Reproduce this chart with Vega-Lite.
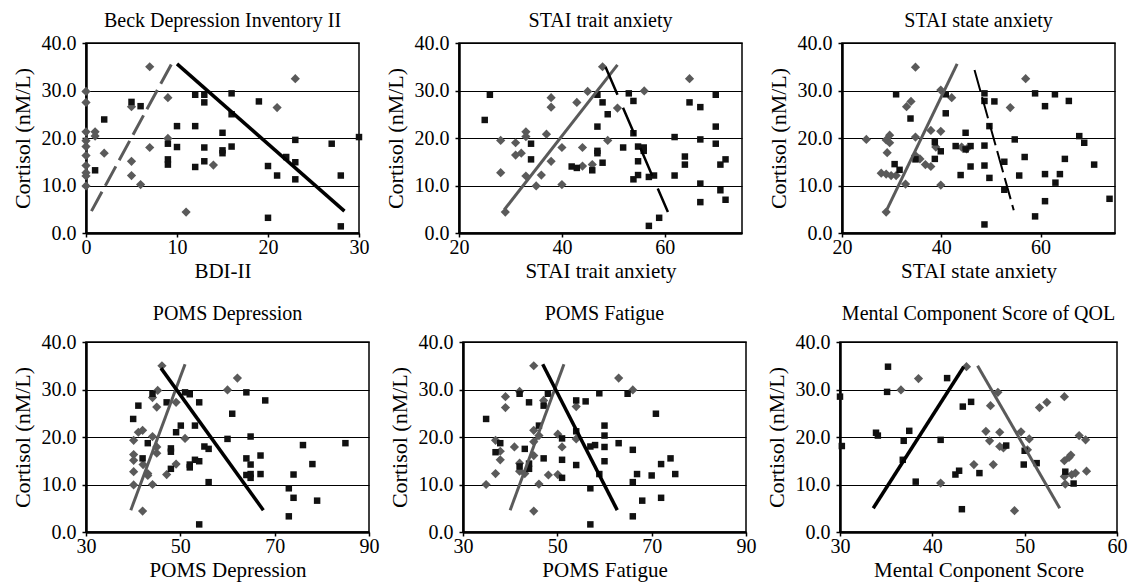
{
"$schema": "https://vega.github.io/schema/vega-lite/v6.json",
"padding": {"left": 10, "top": 10, "right": 2, "bottom": 2},
"background": "white",
"datasets": {
"pts": [
{"panel":1,"group":"A","x":0,"y":29.8},{"panel":1,"group":"A","x":0,"y":27.5},{"panel":1,"group":"A","x":0,"y":21.3},{"panel":1,"group":"A","x":0,"y":19.4},{"panel":1,"group":"A","x":0,"y":18.2},{"panel":1,"group":"A","x":0,"y":16.3},{"panel":1,"group":"A","x":0,"y":14.2},{"panel":1,"group":"A","x":0,"y":12.7},{"panel":1,"group":"A","x":0,"y":12.0},{"panel":1,"group":"A","x":0,"y":9.9},{"panel":1,"group":"A","x":1,"y":21.3},{"panel":1,"group":"A","x":1,"y":20.4},{"panel":1,"group":"A","x":2,"y":16.8},{"panel":1,"group":"A","x":5,"y":26.6},{"panel":1,"group":"A","x":5,"y":15.1},{"panel":1,"group":"A","x":5,"y":12.1},{"panel":1,"group":"A","x":6,"y":10.2},{"panel":1,"group":"A","x":7,"y":35.0},{"panel":1,"group":"A","x":7,"y":18.0},{"panel":1,"group":"A","x":9,"y":28.5},{"panel":1,"group":"A","x":9,"y":19.9},{"panel":1,"group":"A","x":11,"y":4.4},{"panel":1,"group":"A","x":14,"y":14.3},{"panel":1,"group":"A","x":21,"y":26.4},{"panel":1,"group":"A","x":23,"y":32.5},
{"panel":1,"group":"B","x":1,"y":13.2},{"panel":1,"group":"B","x":2,"y":23.9},{"panel":1,"group":"B","x":5,"y":27.6},{"panel":1,"group":"B","x":6,"y":26.7},{"panel":1,"group":"B","x":9,"y":18.8},{"panel":1,"group":"B","x":9,"y":15.5},{"panel":1,"group":"B","x":9,"y":14.4},{"panel":1,"group":"B","x":10,"y":22.5},{"panel":1,"group":"B","x":10,"y":18.1},{"panel":1,"group":"B","x":12,"y":29.1},{"panel":1,"group":"B","x":12,"y":22.5},{"panel":1,"group":"B","x":12,"y":13.9},{"panel":1,"group":"B","x":13,"y":29.1},{"panel":1,"group":"B","x":13,"y":27.5},{"panel":1,"group":"B","x":13,"y":18.0},{"panel":1,"group":"B","x":13,"y":15.1},{"panel":1,"group":"B","x":15,"y":21.1},{"panel":1,"group":"B","x":15,"y":17.4},{"panel":1,"group":"B","x":15,"y":16.8},{"panel":1,"group":"B","x":16,"y":29.4},{"panel":1,"group":"B","x":16,"y":25.0},{"panel":1,"group":"B","x":16,"y":18.2},{"panel":1,"group":"B","x":19,"y":27.7},{"panel":1,"group":"B","x":20,"y":14.1},{"panel":1,"group":"B","x":20,"y":3.2},{"panel":1,"group":"B","x":21,"y":12.1},{"panel":1,"group":"B","x":22,"y":16.0},{"panel":1,"group":"B","x":23,"y":19.6},{"panel":1,"group":"B","x":23,"y":14.9},{"panel":1,"group":"B","x":23,"y":11.3},{"panel":1,"group":"B","x":27,"y":18.8},{"panel":1,"group":"B","x":28,"y":12.1},{"panel":1,"group":"B","x":28,"y":1.4},{"panel":1,"group":"B","x":30,"y":20.2},
{"panel":2,"group":"A","x":29.0,"y":4.4},{"panel":2,"group":"A","x":28.1,"y":19.5},{"panel":2,"group":"A","x":28.1,"y":12.7},{"panel":2,"group":"A","x":31.0,"y":19.0},{"panel":2,"group":"A","x":31.0,"y":16.4},{"panel":2,"group":"A","x":32.1,"y":16.8},{"panel":2,"group":"A","x":33.0,"y":21.3},{"panel":2,"group":"A","x":33.0,"y":20.3},{"panel":2,"group":"A","x":33.0,"y":12.0},{"panel":2,"group":"A","x":35.0,"y":9.9},{"panel":2,"group":"A","x":36.0,"y":12.2},{"panel":2,"group":"A","x":37.0,"y":20.8},{"panel":2,"group":"A","x":37.9,"y":28.5},{"panel":2,"group":"A","x":37.9,"y":26.5},{"panel":2,"group":"A","x":37.9,"y":15.1},{"panel":2,"group":"A","x":40.0,"y":18.0},{"panel":2,"group":"A","x":40.0,"y":10.2},{"panel":2,"group":"A","x":42.9,"y":27.5},{"panel":2,"group":"A","x":44.0,"y":18.0},{"panel":2,"group":"A","x":44.0,"y":14.1},{"panel":2,"group":"A","x":45.0,"y":29.8},{"panel":2,"group":"A","x":45.9,"y":14.4},{"panel":2,"group":"A","x":47.9,"y":35.0},{"panel":2,"group":"A","x":48.9,"y":19.5},{"panel":2,"group":"A","x":50.8,"y":26.3},{"panel":2,"group":"A","x":56.0,"y":29.9},{"panel":2,"group":"A","x":64.8,"y":32.5},
{"panel":2,"group":"B","x":25.0,"y":23.8},{"panel":2,"group":"B","x":26.0,"y":29.1},{"panel":2,"group":"B","x":34.0,"y":18.8},{"panel":2,"group":"B","x":34.0,"y":15.5},{"panel":2,"group":"B","x":41.9,"y":14.0},{"panel":2,"group":"B","x":42.9,"y":13.7},{"panel":2,"group":"B","x":45.9,"y":13.2},{"panel":2,"group":"B","x":46.9,"y":29.1},{"panel":2,"group":"B","x":46.9,"y":22.4},{"panel":2,"group":"B","x":46.9,"y":17.3},{"panel":2,"group":"B","x":46.9,"y":16.8},{"panel":2,"group":"B","x":47.9,"y":27.5},{"panel":2,"group":"B","x":47.9,"y":14.8},{"panel":2,"group":"B","x":48.9,"y":25.0},{"panel":2,"group":"B","x":51.9,"y":18.0},{"panel":2,"group":"B","x":53.0,"y":29.4},{"panel":2,"group":"B","x":53.9,"y":27.8},{"panel":2,"group":"B","x":53.9,"y":21.0},{"panel":2,"group":"B","x":53.9,"y":11.3},{"panel":2,"group":"B","x":54.8,"y":18.2},{"panel":2,"group":"B","x":54.8,"y":15.1},{"panel":2,"group":"B","x":54.8,"y":12.2},{"panel":2,"group":"B","x":55.9,"y":18.0},{"panel":2,"group":"B","x":55.9,"y":17.3},{"panel":2,"group":"B","x":56.9,"y":11.8},{"panel":2,"group":"B","x":57.9,"y":12.1},{"panel":2,"group":"B","x":56.9,"y":1.5},{"panel":2,"group":"B","x":58.9,"y":3.2},{"panel":2,"group":"B","x":61.9,"y":20.2},{"panel":2,"group":"B","x":61.9,"y":12.1},{"panel":2,"group":"B","x":63.9,"y":16.1},{"panel":2,"group":"B","x":63.9,"y":14.4},{"panel":2,"group":"B","x":64.8,"y":27.5},{"panel":2,"group":"B","x":66.9,"y":26.5},{"panel":2,"group":"B","x":66.9,"y":19.7},{"panel":2,"group":"B","x":66.9,"y":10.4},{"panel":2,"group":"B","x":66.9,"y":6.5},{"panel":2,"group":"B","x":69.9,"y":29.1},{"panel":2,"group":"B","x":69.9,"y":22.4},{"panel":2,"group":"B","x":69.9,"y":18.8},{"panel":2,"group":"B","x":70.8,"y":14.4},{"panel":2,"group":"B","x":70.8,"y":9.0},{"panel":2,"group":"B","x":71.8,"y":15.5},{"panel":2,"group":"B","x":71.8,"y":7.0},
{"panel":3,"group":"A","x":24.9,"y":19.7},{"panel":3,"group":"A","x":27.9,"y":12.6},{"panel":3,"group":"A","x":28.9,"y":4.4},{"panel":3,"group":"A","x":28.9,"y":19.6},{"panel":3,"group":"A","x":29.6,"y":20.6},{"panel":3,"group":"A","x":29.6,"y":19.0},{"panel":3,"group":"A","x":28.9,"y":12.4},{"panel":3,"group":"A","x":29.1,"y":16.9},{"panel":3,"group":"A","x":29.9,"y":12.1},{"panel":3,"group":"A","x":30.9,"y":12.1},{"panel":3,"group":"A","x":32.8,"y":10.3},{"panel":3,"group":"A","x":33.0,"y":26.6},{"panel":3,"group":"A","x":33.9,"y":27.7},{"panel":3,"group":"A","x":34.8,"y":34.9},{"panel":3,"group":"A","x":34.8,"y":20.2},{"panel":3,"group":"A","x":34.8,"y":16.3},{"panel":3,"group":"A","x":35.7,"y":15.6},{"panel":3,"group":"A","x":36.8,"y":14.4},{"panel":3,"group":"A","x":37.9,"y":21.6},{"panel":3,"group":"A","x":37.9,"y":14.0},{"panel":3,"group":"A","x":38.9,"y":18.1},{"panel":3,"group":"A","x":39.9,"y":30.1},{"panel":3,"group":"A","x":39.9,"y":21.4},{"panel":3,"group":"A","x":39.9,"y":10.1},{"panel":3,"group":"A","x":42.1,"y":28.5},{"panel":3,"group":"A","x":44.1,"y":18.1},{"panel":3,"group":"A","x":45.1,"y":17.7},{"panel":3,"group":"A","x":53.9,"y":26.4},{"panel":3,"group":"A","x":57.0,"y":32.5},
{"panel":3,"group":"B","x":30.9,"y":29.2},{"panel":3,"group":"B","x":30.6,"y":14.5},{"panel":3,"group":"B","x":31.6,"y":13.3},{"panel":3,"group":"B","x":33.8,"y":24.1},{"panel":3,"group":"B","x":34.8,"y":15.5},{"panel":3,"group":"B","x":38.7,"y":19.1},{"panel":3,"group":"B","x":38.7,"y":15.6},{"panel":3,"group":"B","x":39.9,"y":17.2},{"panel":3,"group":"B","x":40.9,"y":29.2},{"panel":3,"group":"B","x":40.9,"y":25.2},{"panel":3,"group":"B","x":42.9,"y":18.3},{"panel":3,"group":"B","x":43.9,"y":12.2},{"panel":3,"group":"B","x":44.9,"y":21.1},{"panel":3,"group":"B","x":44.9,"y":17.6},{"panel":3,"group":"B","x":45.9,"y":18.3},{"panel":3,"group":"B","x":45.9,"y":14.0},{"panel":3,"group":"B","x":48.7,"y":29.4},{"panel":3,"group":"B","x":48.7,"y":27.8},{"panel":3,"group":"B","x":48.7,"y":18.4},{"panel":3,"group":"B","x":48.7,"y":14.2},{"panel":3,"group":"B","x":48.7,"y":1.8},{"panel":3,"group":"B","x":49.7,"y":22.5},{"panel":3,"group":"B","x":49.7,"y":11.6},{"panel":3,"group":"B","x":50.7,"y":27.7},{"panel":3,"group":"B","x":52.7,"y":15.0},{"panel":3,"group":"B","x":52.7,"y":9.1},{"panel":3,"group":"B","x":54.8,"y":19.7},{"panel":3,"group":"B","x":55.7,"y":12.1},{"panel":3,"group":"B","x":56.8,"y":16.0},{"panel":3,"group":"B","x":58.9,"y":29.4},{"panel":3,"group":"B","x":58.9,"y":3.5},{"panel":3,"group":"B","x":60.9,"y":26.7},{"panel":3,"group":"B","x":60.9,"y":12.4},{"panel":3,"group":"B","x":60.9,"y":6.7},{"panel":3,"group":"B","x":62.9,"y":29.2},{"panel":3,"group":"B","x":63.0,"y":10.6},{"panel":3,"group":"B","x":63.9,"y":12.4},{"panel":3,"group":"B","x":64.9,"y":15.6},{"panel":3,"group":"B","x":65.7,"y":27.8},{"panel":3,"group":"B","x":67.8,"y":20.4},{"panel":3,"group":"B","x":68.8,"y":19.0},{"panel":3,"group":"B","x":70.8,"y":14.4},{"panel":3,"group":"B","x":73.9,"y":7.2},
{"panel":4,"group":"A","x":46.1,"y":35.0},{"panel":4,"group":"A","x":45.2,"y":29.8},{"panel":4,"group":"A","x":44.1,"y":28.3},{"panel":4,"group":"A","x":45.0,"y":26.3},{"panel":4,"group":"A","x":40.1,"y":19.3},{"panel":4,"group":"A","x":40.1,"y":16.3},{"panel":4,"group":"A","x":40.1,"y":15.1},{"panel":4,"group":"A","x":40.1,"y":12.7},{"panel":4,"group":"A","x":40.1,"y":9.9},{"panel":4,"group":"A","x":41.1,"y":21.0},{"panel":4,"group":"A","x":42.0,"y":21.4},{"panel":4,"group":"A","x":42.0,"y":4.4},{"panel":4,"group":"A","x":42.1,"y":14.2},{"panel":4,"group":"A","x":43.1,"y":12.3},{"panel":4,"group":"A","x":43.1,"y":11.9},{"panel":4,"group":"A","x":44.1,"y":20.1},{"panel":4,"group":"A","x":44.1,"y":10.0},{"panel":4,"group":"A","x":45.0,"y":16.6},{"panel":4,"group":"A","x":45.0,"y":17.9},{"panel":4,"group":"A","x":47.1,"y":12.1},{"panel":4,"group":"A","x":49.1,"y":14.3},{"panel":4,"group":"A","x":49.1,"y":27.3},{"panel":4,"group":"A","x":51.0,"y":19.7},{"panel":4,"group":"A","x":60.0,"y":29.9},{"panel":4,"group":"A","x":62.1,"y":32.4},
{"panel":4,"group":"B","x":40.0,"y":23.8},{"panel":4,"group":"B","x":41.1,"y":26.6},{"panel":4,"group":"B","x":42.0,"y":15.5},{"panel":4,"group":"B","x":43.1,"y":18.7},{"panel":4,"group":"B","x":44.1,"y":29.1},{"panel":4,"group":"B","x":47.1,"y":27.3},{"panel":4,"group":"B","x":48.0,"y":13.3},{"panel":4,"group":"B","x":48.0,"y":17.6},{"panel":4,"group":"B","x":48.0,"y":16.9},{"panel":4,"group":"B","x":49.1,"y":21.0},{"panel":4,"group":"B","x":50.1,"y":22.4},{"panel":4,"group":"B","x":51.0,"y":29.4},{"panel":4,"group":"B","x":52.0,"y":29.0},{"panel":4,"group":"B","x":53.1,"y":22.4},{"panel":4,"group":"B","x":52.0,"y":14.2},{"panel":4,"group":"B","x":52.0,"y":13.6},{"panel":4,"group":"B","x":53.1,"y":15.2},{"panel":4,"group":"B","x":54.0,"y":27.3},{"panel":4,"group":"B","x":54.0,"y":14.9},{"panel":4,"group":"B","x":54.0,"y":1.6},{"panel":4,"group":"B","x":55.1,"y":18.0},{"panel":4,"group":"B","x":56.0,"y":17.5},{"panel":4,"group":"B","x":56.0,"y":10.5},{"panel":4,"group":"B","x":60.0,"y":19.6},{"panel":4,"group":"B","x":61.0,"y":24.9},{"panel":4,"group":"B","x":64.0,"y":29.4},{"panel":4,"group":"B","x":64.0,"y":15.5},{"panel":4,"group":"B","x":64.0,"y":12.0},{"panel":4,"group":"B","x":64.9,"y":20.1},{"panel":4,"group":"B","x":64.9,"y":14.2},{"panel":4,"group":"B","x":64.9,"y":12.2},{"panel":4,"group":"B","x":64.9,"y":11.4},{"panel":4,"group":"B","x":67.0,"y":16.1},{"panel":4,"group":"B","x":67.0,"y":12.2},{"panel":4,"group":"B","x":68.0,"y":27.7},{"panel":4,"group":"B","x":73.0,"y":9.2},{"panel":4,"group":"B","x":73.0,"y":3.3},{"panel":4,"group":"B","x":74.0,"y":7.2},{"panel":4,"group":"B","x":74.0,"y":12.1},{"panel":4,"group":"B","x":76.0,"y":18.3},{"panel":4,"group":"B","x":78.0,"y":14.3},{"panel":4,"group":"B","x":79.0,"y":6.6},{"panel":4,"group":"B","x":85.0,"y":18.7},
{"panel":5,"group":"A","x":34.9,"y":10.0},{"panel":5,"group":"A","x":36.9,"y":19.3},{"panel":5,"group":"A","x":36.9,"y":12.3},{"panel":5,"group":"A","x":37.9,"y":17.0},{"panel":5,"group":"A","x":37.9,"y":15.2},{"panel":5,"group":"A","x":39.0,"y":28.5},{"panel":5,"group":"A","x":39.0,"y":26.2},{"panel":5,"group":"A","x":40.9,"y":17.9},{"panel":5,"group":"A","x":42.0,"y":29.6},{"panel":5,"group":"A","x":42.0,"y":14.5},{"panel":5,"group":"A","x":42.0,"y":12.8},{"panel":5,"group":"A","x":43.1,"y":12.3},{"panel":5,"group":"A","x":45.0,"y":35.0},{"panel":5,"group":"A","x":45.0,"y":21.4},{"panel":5,"group":"A","x":45.0,"y":4.4},{"panel":5,"group":"A","x":45.0,"y":16.1},{"panel":5,"group":"A","x":45.0,"y":19.0},{"panel":5,"group":"A","x":46.1,"y":20.3},{"panel":5,"group":"A","x":46.1,"y":10.1},{"panel":5,"group":"A","x":47.1,"y":27.7},{"panel":5,"group":"A","x":48.1,"y":12.0},{"panel":5,"group":"A","x":50.1,"y":20.6},{"panel":5,"group":"A","x":50.1,"y":12.1},{"panel":5,"group":"A","x":51.0,"y":17.9},{"panel":5,"group":"A","x":54.0,"y":26.4},{"panel":5,"group":"A","x":54.0,"y":19.6},{"panel":5,"group":"A","x":63.0,"y":32.4},{"panel":5,"group":"A","x":66.0,"y":29.9},
{"panel":5,"group":"B","x":34.9,"y":23.8},{"panel":5,"group":"B","x":36.9,"y":16.8},{"panel":5,"group":"B","x":37.9,"y":18.7},{"panel":5,"group":"B","x":42.0,"y":29.1},{"panel":5,"group":"B","x":42.0,"y":13.8},{"panel":5,"group":"B","x":43.1,"y":17.5},{"panel":5,"group":"B","x":44.0,"y":27.3},{"panel":5,"group":"B","x":44.0,"y":14.4},{"panel":5,"group":"B","x":44.0,"y":13.3},{"panel":5,"group":"B","x":46.1,"y":22.4},{"panel":5,"group":"B","x":47.1,"y":15.5},{"panel":5,"group":"B","x":47.1,"y":26.6},{"panel":5,"group":"B","x":48.0,"y":29.1},{"panel":5,"group":"B","x":51.0,"y":19.7},{"panel":5,"group":"B","x":51.0,"y":15.2},{"panel":5,"group":"B","x":51.0,"y":11.4},{"panel":5,"group":"B","x":54.0,"y":27.7},{"panel":5,"group":"B","x":54.0,"y":21.2},{"panel":5,"group":"B","x":54.0,"y":14.1},{"panel":5,"group":"B","x":56.0,"y":27.5},{"panel":5,"group":"B","x":57.0,"y":18.0},{"panel":5,"group":"B","x":57.0,"y":9.2},{"panel":5,"group":"B","x":57.0,"y":1.6},{"panel":5,"group":"B","x":58.0,"y":18.3},{"panel":5,"group":"B","x":58.9,"y":29.2},{"panel":5,"group":"B","x":58.9,"y":12.2},{"panel":5,"group":"B","x":60.0,"y":22.4},{"panel":5,"group":"B","x":60.0,"y":20.3},{"panel":5,"group":"B","x":60.0,"y":17.9},{"panel":5,"group":"B","x":60.0,"y":14.9},{"panel":5,"group":"B","x":63.0,"y":18.7},{"panel":5,"group":"B","x":64.9,"y":29.1},{"panel":5,"group":"B","x":66.0,"y":17.3},{"panel":5,"group":"B","x":66.0,"y":10.5},{"panel":5,"group":"B","x":66.0,"y":3.3},{"panel":5,"group":"B","x":66.9,"y":12.2},{"panel":5,"group":"B","x":70.0,"y":11.9},{"panel":5,"group":"B","x":70.9,"y":24.9},{"panel":5,"group":"B","x":72.0,"y":14.3},{"panel":5,"group":"B","x":72.0,"y":7.2},{"panel":5,"group":"B","x":74.0,"y":15.5},{"panel":5,"group":"B","x":75.0,"y":12.2},{"panel":5,"group":"B","x":68.0,"y":6.6},
{"panel":6,"group":"B","x":30.0,"y":28.5},{"panel":6,"group":"B","x":30.2,"y":18.1},{"panel":6,"group":"B","x":35.2,"y":34.8},{"panel":6,"group":"B","x":35.1,"y":29.5},{"panel":6,"group":"B","x":33.9,"y":20.9},{"panel":6,"group":"B","x":34.1,"y":20.3},{"panel":6,"group":"B","x":37.5,"y":21.3},{"panel":6,"group":"B","x":36.9,"y":19.2},{"panel":6,"group":"B","x":36.8,"y":15.2},{"panel":6,"group":"B","x":38.2,"y":10.6},{"panel":6,"group":"B","x":41.6,"y":32.4},{"panel":6,"group":"B","x":40.9,"y":19.4},{"panel":6,"group":"B","x":43.3,"y":26.4},{"panel":6,"group":"B","x":44.2,"y":27.4},{"panel":6,"group":"B","x":42.5,"y":12.1},{"panel":6,"group":"B","x":42.9,"y":12.9},{"panel":6,"group":"B","x":43.2,"y":4.8},{"panel":6,"group":"B","x":45.1,"y":12.4},{"panel":6,"group":"B","x":48.0,"y":18.2},{"panel":6,"group":"B","x":50.0,"y":17.1},{"panel":6,"group":"B","x":49.9,"y":14.2},{"panel":6,"group":"B","x":51.3,"y":14.5},{"panel":6,"group":"B","x":54.4,"y":12.7},{"panel":6,"group":"B","x":55.3,"y":10.2},
{"panel":6,"group":"A","x":36.6,"y":29.9},{"panel":6,"group":"A","x":38.5,"y":32.3},{"panel":6,"group":"A","x":40.9,"y":10.3},{"panel":6,"group":"A","x":43.7,"y":34.8},{"panel":6,"group":"A","x":44.5,"y":14.2},{"panel":6,"group":"A","x":45.8,"y":21.2},{"panel":6,"group":"A","x":46.2,"y":19.2},{"panel":6,"group":"A","x":46.3,"y":26.6},{"panel":6,"group":"A","x":46.6,"y":14.2},{"panel":6,"group":"A","x":47.1,"y":29.4},{"panel":6,"group":"A","x":47.3,"y":21.0},{"panel":6,"group":"A","x":47.3,"y":18.0},{"panel":6,"group":"A","x":47.7,"y":17.7},{"panel":6,"group":"A","x":49.6,"y":21.1},{"panel":6,"group":"A","x":50.5,"y":19.6},{"panel":6,"group":"A","x":50.3,"y":17.3},{"panel":6,"group":"A","x":51.6,"y":26.2},{"panel":6,"group":"A","x":52.4,"y":27.3},{"panel":6,"group":"A","x":48.9,"y":4.5},{"panel":6,"group":"A","x":54.3,"y":28.5},{"panel":6,"group":"A","x":54.3,"y":15.0},{"panel":6,"group":"A","x":54.3,"y":11.7},{"panel":6,"group":"A","x":54.4,"y":10.1},{"panel":6,"group":"A","x":54.8,"y":15.7},{"panel":6,"group":"A","x":55.0,"y":16.2},{"panel":6,"group":"A","x":55.1,"y":12.1},{"panel":6,"group":"A","x":55.5,"y":12.4},{"panel":6,"group":"A","x":55.9,"y":20.3},{"panel":6,"group":"A","x":56.6,"y":19.4},{"panel":6,"group":"A","x":56.7,"y":12.8}
],
"fits": [
{"panel":1,"group":"A","x":0.6,"y":4.6},{"panel":1,"group":"A","x":9.4,"y":35.6},
{"panel":1,"group":"B","x":10.0,"y":35.6},{"panel":1,"group":"B","x":28.4,"y":4.6},
{"panel":2,"group":"A","x":28.8,"y":4.9},{"panel":2,"group":"A","x":50.8,"y":35.4},
{"panel":2,"group":"B","x":48.5,"y":34.9},{"panel":2,"group":"B","x":60.6,"y":4.4},
{"panel":3,"group":"A","x":28.8,"y":4.4},{"panel":3,"group":"A","x":43.2,"y":35.6},
{"panel":3,"group":"B","x":46.7,"y":34.3},{"panel":3,"group":"B","x":54.6,"y":4.8},
{"panel":4,"group":"A","x":39.5,"y":4.6},{"panel":4,"group":"A","x":51.0,"y":35.3},
{"panel":4,"group":"B","x":45.9,"y":34.5},{"panel":4,"group":"B","x":67.6,"y":4.6},
{"panel":5,"group":"A","x":40.0,"y":4.6},{"panel":5,"group":"A","x":51.4,"y":35.3},
{"panel":5,"group":"B","x":46.9,"y":35.3},{"panel":5,"group":"B","x":62.7,"y":4.6},
{"panel":6,"group":"B","x":33.6,"y":5.0},{"panel":6,"group":"B","x":43.4,"y":34.8},
{"panel":6,"group":"A","x":44.9,"y":35.0},{"panel":6,"group":"A","x":53.8,"y":5.0}
]
},
"vconcat": [
{"hconcat": [
{"width": 273, "height": 190, "title": {"text": "Beck Depression Inventory II", "offset": 2},
"encoding": {"x": {"field": "x", "type": "quantitative", "scale": {"domain": [0, 30], "nice": false, "zero": false}, "axis": {"values": [0, 10, 20, 30], "title": "BDI-II"}},
"y": {"field": "y", "type": "quantitative", "scale": {"domain": [0, 40], "nice": false}, "axis": {"values": [0, 10, 20, 30, 40], "format": ".1f", "title": "Cortisol (nM/L)"}}},
"layer": [
{"data": {"name": "pts"}, "transform": [{"filter": "datum.panel == 1 && datum.group == 'A'"}], "mark": {"type": "point", "shape": "diamond", "filled": true, "size": 85, "color": "#5a5a5a", "opacity": 1}},
{"data": {"name": "pts"}, "transform": [{"filter": "datum.panel == 1 && datum.group == 'B'"}], "mark": {"type": "point", "shape": "square", "filled": true, "size": 42, "color": "#111111", "opacity": 1}},
{"data": {"name": "fits"}, "transform": [{"filter": "datum.panel == 1 && datum.group == 'A'"}], "mark": {"type": "line", "color": "#5a5a5a", "strokeWidth": 3, "strokeDash": [22, 7]}},
{"data": {"name": "fits"}, "transform": [{"filter": "datum.panel == 1 && datum.group == 'B'"}], "mark": {"type": "line", "color": "#000000", "strokeWidth": 3.5}}
]},
{"width": 283, "height": 190, "title": {"text": "STAI trait anxiety", "offset": 2},
"encoding": {"x": {"field": "x", "type": "quantitative", "scale": {"domain": [20, 75], "nice": false, "zero": false}, "axis": {"values": [20, 40, 60], "title": "STAI trait anxiety"}},
"y": {"field": "y", "type": "quantitative", "scale": {"domain": [0, 40], "nice": false}, "axis": {"values": [0, 10, 20, 30, 40], "format": ".1f", "title": "Cortisol (nM/L)"}}},
"layer": [
{"data": {"name": "pts"}, "transform": [{"filter": "datum.panel == 2 && datum.group == 'A'"}], "mark": {"type": "point", "shape": "diamond", "filled": true, "size": 85, "color": "#5a5a5a", "opacity": 1}},
{"data": {"name": "pts"}, "transform": [{"filter": "datum.panel == 2 && datum.group == 'B'"}], "mark": {"type": "point", "shape": "square", "filled": true, "size": 42, "color": "#111111", "opacity": 1}},
{"data": {"name": "fits"}, "transform": [{"filter": "datum.panel == 2 && datum.group == 'A'"}], "mark": {"type": "line", "color": "#5a5a5a", "strokeWidth": 3}},
{"data": {"name": "fits"}, "transform": [{"filter": "datum.panel == 2 && datum.group == 'B'"}], "mark": {"type": "line", "color": "#000000", "strokeWidth": 2.5, "strokeDash": [30, 14]}}
]},
{"width": 273, "height": 190, "title": {"text": "STAI state anxiety", "offset": 2},
"encoding": {"x": {"field": "x", "type": "quantitative", "scale": {"domain": [20, 75], "nice": false, "zero": false}, "axis": {"values": [20, 40, 60], "title": "STAI state anxiety"}},
"y": {"field": "y", "type": "quantitative", "scale": {"domain": [0, 40], "nice": false}, "axis": {"values": [0, 10, 20, 30, 40], "format": ".1f", "title": "Cortisol (nM/L)"}}},
"layer": [
{"data": {"name": "pts"}, "transform": [{"filter": "datum.panel == 3 && datum.group == 'A'"}], "mark": {"type": "point", "shape": "diamond", "filled": true, "size": 85, "color": "#5a5a5a", "opacity": 1}},
{"data": {"name": "pts"}, "transform": [{"filter": "datum.panel == 3 && datum.group == 'B'"}], "mark": {"type": "point", "shape": "square", "filled": true, "size": 42, "color": "#111111", "opacity": 1}},
{"data": {"name": "fits"}, "transform": [{"filter": "datum.panel == 3 && datum.group == 'A'"}], "mark": {"type": "line", "color": "#5a5a5a", "strokeWidth": 3}},
{"data": {"name": "fits"}, "transform": [{"filter": "datum.panel == 3 && datum.group == 'B'"}], "mark": {"type": "line", "color": "#000000", "strokeWidth": 2, "strokeDash": [22, 6]}}
]}
], "spacing": 100, "bounds": "flush"},
{"hconcat": [
{"width": 283, "height": 190, "title": {"text": "POMS Depression", "offset": 8},
"encoding": {"x": {"field": "x", "type": "quantitative", "scale": {"domain": [30, 90], "nice": false, "zero": false}, "axis": {"values": [30, 50, 70, 90], "title": "POMS Depression"}},
"y": {"field": "y", "type": "quantitative", "scale": {"domain": [0, 40], "nice": false}, "axis": {"values": [0, 10, 20, 30, 40], "format": ".1f", "title": "Cortisol (nM/L)"}}},
"layer": [
{"data": {"name": "pts"}, "transform": [{"filter": "datum.panel == 4 && datum.group == 'A'"}], "mark": {"type": "point", "shape": "diamond", "filled": true, "size": 85, "color": "#5a5a5a", "opacity": 1}},
{"data": {"name": "pts"}, "transform": [{"filter": "datum.panel == 4 && datum.group == 'B'"}], "mark": {"type": "point", "shape": "square", "filled": true, "size": 42, "color": "#111111", "opacity": 1}},
{"data": {"name": "fits"}, "transform": [{"filter": "datum.panel == 4 && datum.group == 'A'"}], "mark": {"type": "line", "color": "#5a5a5a", "strokeWidth": 3}},
{"data": {"name": "fits"}, "transform": [{"filter": "datum.panel == 4 && datum.group == 'B'"}], "mark": {"type": "line", "color": "#000000", "strokeWidth": 3.5}}
]},
{"width": 283, "height": 190, "title": {"text": "POMS Fatigue", "offset": 8},
"encoding": {"x": {"field": "x", "type": "quantitative", "scale": {"domain": [30, 90], "nice": false, "zero": false}, "axis": {"values": [30, 50, 70, 90], "title": "POMS Fatigue"}},
"y": {"field": "y", "type": "quantitative", "scale": {"domain": [0, 40], "nice": false}, "axis": {"values": [0, 10, 20, 30, 40], "format": ".1f", "title": "Cortisol (nM/L)"}}},
"layer": [
{"data": {"name": "pts"}, "transform": [{"filter": "datum.panel == 5 && datum.group == 'A'"}], "mark": {"type": "point", "shape": "diamond", "filled": true, "size": 85, "color": "#5a5a5a", "opacity": 1}},
{"data": {"name": "pts"}, "transform": [{"filter": "datum.panel == 5 && datum.group == 'B'"}], "mark": {"type": "point", "shape": "square", "filled": true, "size": 42, "color": "#111111", "opacity": 1}},
{"data": {"name": "fits"}, "transform": [{"filter": "datum.panel == 5 && datum.group == 'A'"}], "mark": {"type": "line", "color": "#5a5a5a", "strokeWidth": 3}},
{"data": {"name": "fits"}, "transform": [{"filter": "datum.panel == 5 && datum.group == 'B'"}], "mark": {"type": "line", "color": "#000000", "strokeWidth": 3.5}}
]},
{"width": 277, "height": 190, "title": {"text": "Mental Component Score of QOL", "offset": 8},
"encoding": {"x": {"field": "x", "type": "quantitative", "scale": {"domain": [30, 60], "nice": false, "zero": false}, "axis": {"values": [30, 40, 50, 60], "title": "Mental Conponent Score"}},
"y": {"field": "y", "type": "quantitative", "scale": {"domain": [0, 40], "nice": false}, "axis": {"values": [0, 10, 20, 30, 40], "format": ".1f", "title": "Cortisol (nM/L)"}}},
"layer": [
{"data": {"name": "pts"}, "transform": [{"filter": "datum.panel == 6 && datum.group == 'A'"}], "mark": {"type": "point", "shape": "diamond", "filled": true, "size": 85, "color": "#5a5a5a", "opacity": 1}},
{"data": {"name": "pts"}, "transform": [{"filter": "datum.panel == 6 && datum.group == 'B'"}], "mark": {"type": "point", "shape": "square", "filled": true, "size": 42, "color": "#111111", "opacity": 1}},
{"data": {"name": "fits"}, "transform": [{"filter": "datum.panel == 6 && datum.group == 'A'"}], "mark": {"type": "line", "color": "#5a5a5a", "strokeWidth": 3}},
{"data": {"name": "fits"}, "transform": [{"filter": "datum.panel == 6 && datum.group == 'B'"}], "mark": {"type": "line", "color": "#000000", "strokeWidth": 3.5}}
]}
], "spacing": 94, "bounds": "flush"}
],
"spacing": 299,
"bounds": "flush",
"config": {
"font": "Liberation Serif",
"view": {"stroke": "#000000", "strokeWidth": 1.5},
"axis": {"labelFont": "Liberation Serif", "labelFontSize": 20, "labelColor": "#000000", "titleFont": "Liberation Serif", "titleFontSize": 21, "titleFontWeight": "normal", "titleColor": "#000000", "domainColor": "#000000", "domainWidth": 2.5, "tickColor": "#000000", "tickSize": 4, "tickWidth": 1.5, "gridColor": "#000000", "gridWidth": 1, "gridOpacity": 1},
"axisY": {"grid": true, "titleFontSize": 22, "titlePadding": 7, "labelPadding": 6},
"axisX": {"grid": false, "titlePadding": 3, "labelPadding": 0, "labelFlush": false},
"title": {"font": "Liberation Serif", "fontSize": 20, "fontWeight": "normal", "color": "#000000", "anchor": "middle"}
}
}
